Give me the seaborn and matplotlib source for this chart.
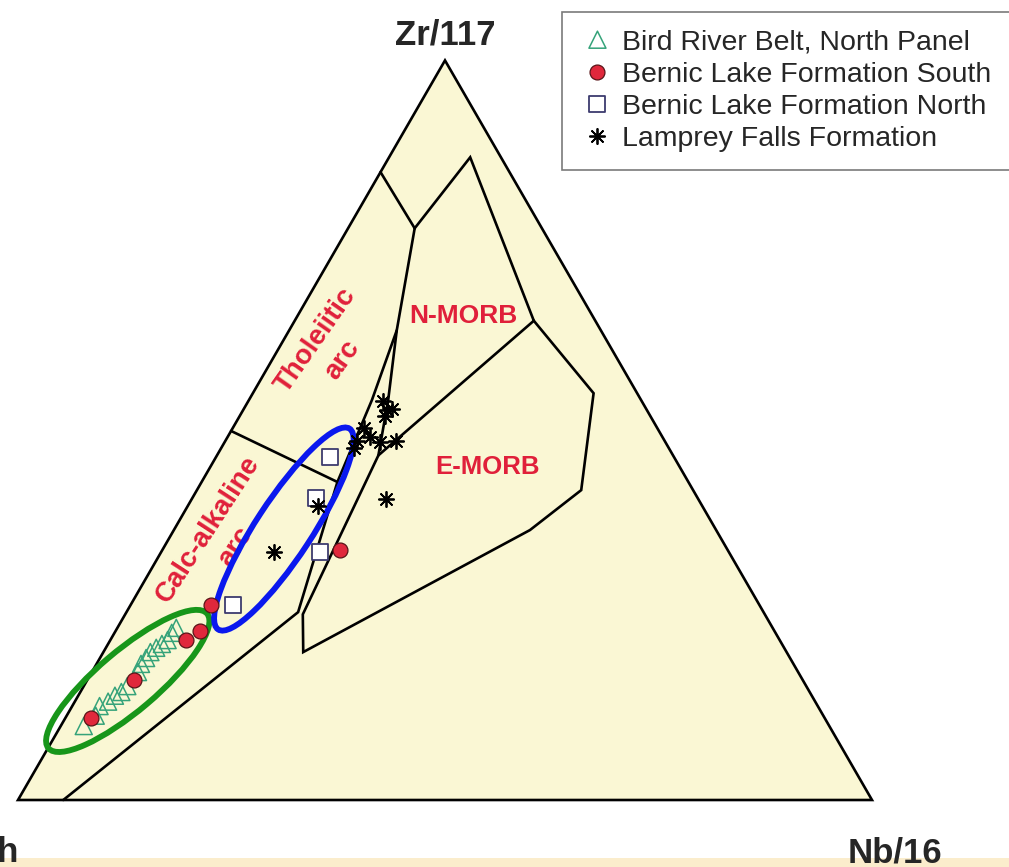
import numpy as np
import pandas as pd
import matplotlib
matplotlib.use("Agg")
import matplotlib.pyplot as plt
from matplotlib.patches import Polygon, Ellipse, Rectangle
import seaborn as sns

# ---- Sample compositions, percent of (Th, Zr/117, Nb/16) ----
bird_th = [87.3, 85.2, 84.1, 82.8, 81.6, 80.6, 79.5, 77.3, 76.4, 75.4, 74.5, 73.6, 72.6, 71.6, 70.7, 69.9]
bird_zr = [10.0, 11.4, 12.7, 13.3, 14.1, 14.6, 15.4, 17.3, 18.4, 19.2, 20.0, 20.6, 21.1, 21.6, 22.6, 23.3]
bird_nb = [2.7, 3.4, 3.2, 3.9, 4.3, 4.8, 5.1, 5.4, 5.2, 5.4, 5.5, 5.9, 6.3, 6.7, 6.7, 6.9]

south_th = [45.4, 64.2, 67.3, 69.5, 78.3, 86.0]
south_zr = [33.8, 26.4, 22.9, 21.6, 16.2, 11.1]
south_nb = [20.8, 9.4, 9.9, 8.9, 5.5, 3.0]

north_th = [40.3, 44.7, 47.9, 61.6]
north_zr = [46.4, 40.8, 33.5, 26.4]
north_nb = [13.3, 14.5, 18.6, 12.0]

lamprey_th = [30.3, 30.4, 29.8, 31.1, 34.3, 34.2, 33.4, 31.5, 36.0, 36.9, 36.6, 45.0, 53.3]
lamprey_zr = [54.0, 52.7, 52.9, 51.9, 50.3, 49.1, 48.4, 48.5, 48.5, 47.6, 40.7, 39.8, 33.5]
lamprey_nb = [15.8, 16.8, 17.4, 17.0, 15.4, 16.7, 18.2, 20.0, 15.4, 15.5, 22.7, 15.2, 13.2]

group_names = ["Bird River Belt, North Panel", "Bernic Lake Formation South",
               "Bernic Lake Formation North", "Lamprey Falls Formation"]

# ---- Discrimination field boundaries (Th, Zr/117, Nb/16) ----
bnd_tholeiite_top = [(15.1, 84.9, 0.0), (14.9, 77.3, 7.8)]
bnd_nmorb_cap = [(14.9, 77.3, 7.8), (3.6, 86.9, 9.5), (7.2, 64.8, 28.0)]
bnd_emorb = [(7.2, 64.8, 28.0), (5.1, 55.0, 39.9), (13.1, 41.9, 45.0), (21.8, 36.5, 41.7),
             (56.6, 20.0, 23.4), (54.1, 25.1, 20.8), (34.5, 46.6, 18.9), (29.6, 54.1, 16.3),
             (23.9, 63.5, 12.6), (14.9, 77.3, 7.8)]
bnd_morb_split = [(7.2, 64.8, 28.0), (34.5, 46.6, 18.9)]
bnd_arc = [(23.9, 63.5, 12.6), (31.5, 54.1, 14.4), (41.1, 43.0, 15.9), (54.5, 25.4, 20.1), (94.7, 0.0, 5.3)]
bnd_calc_thol = [(50.1, 49.9, 0.0), (41.1, 43.0, 15.9)]

H = np.sqrt(3) / 2


def to_xy(th, zr, nb):
    th, zr, nb = (np.asarray(v, dtype=float) for v in (th, zr, nb))
    tot = th + zr + nb
    return nb / tot + 0.5 * zr / tot, H * zr / tot


def poly_xy(pts):
    arr = np.array(pts, dtype=float)
    return to_xy(arr[:, 0], arr[:, 1], arr[:, 2])


sns.set_theme(style="white")
plt.rcParams["font.family"] = ["Liberation Sans", "DejaVu Sans"]

fig = plt.figure(figsize=(10.09, 8.67), dpi=100)
fig.patch.set_facecolor("white")
ax = fig.add_axes([0, 0, 1, 1])
ax.set_xlim(-0.02108, 1.16042)
ax.set_ylim(-0.07845, 0.93677)
ax.set_aspect("equal")
ax.axis("off")

# pale band along the bottom edge
fig.add_artist(Rectangle((0, 0), 1, 9 / 867, transform=fig.transFigure,
                         facecolor="#fbedcc", edgecolor="none", zorder=0))

# ternary frame
tri = Polygon([(0, 0), (1, 0), (0.5, H)], closed=True, facecolor="#faf7d4",
              edgecolor="black", linewidth=1.9, zorder=1)
ax.add_patch(tri)

for pts in [bnd_tholeiite_top, bnd_nmorb_cap, bnd_emorb, bnd_morb_split, bnd_arc, bnd_calc_thol]:
    x, y = poly_xy(pts)
    ax.plot(x, y, color="black", linewidth=1.9, solid_joinstyle="miter", zorder=2)

# field names
red = "#e0203a"
for txt, (xx, yy), rot, fs in [("N-MORB", (0.5211, 0.5667), 0, 19),
                               ("E-MORB", (0.5492, 0.3899), 0, 18.5),
                               ("Tholeiitic\narc", (0.3642, 0.5269), 55, 20),
                               ("Calc-alkaline\narc", (0.2389, 0.3068), 57, 20)]:
    ax.text(xx, yy, txt, color=red, fontsize=fs, fontweight="bold", rotation=rot,
            ha="center", va="center", rotation_mode="anchor", multialignment="center",
            linespacing=1.35, zorder=3)

# apex labels
ax.text(0.5, 0.885, "Zr/117", fontsize=25, fontweight="bold", ha="center", va="baseline")
ax.text(1.0264, -0.0726, "Nb/16", fontsize=25, fontweight="bold", ha="center", va="baseline")
ax.text(0.0012, -0.0726, "Th", fontsize=25, fontweight="bold", ha="right", va="baseline")

# grouping ellipses
gx, gy = to_xy(79.1, 16.1, 4.8)
ax.add_patch(Ellipse((gx, gy), 0.2436, 0.0703, angle=40.3, fill=False,
                     edgecolor="#17961a", linewidth=4.2, zorder=3))
bx, by = to_xy(50.5, 36.6, 12.8)
ax.add_patch(Ellipse((bx, by), 0.281, 0.0656, angle=56.8, fill=False,
                     edgecolor="#0a18ee", linewidth=4.2, zorder=3))

# sample points
frames = []
for name, th, zr, nb in zip(group_names,
                            [bird_th, south_th, north_th, lamprey_th],
                            [bird_zr, south_zr, north_zr, lamprey_zr],
                            [bird_nb, south_nb, north_nb, lamprey_nb]):
    x, y = to_xy(th, zr, nb)
    frames.append(pd.DataFrame({"x": x, "y": y, "group": name}))
df = pd.concat(frames, ignore_index=True)

styles = {
    group_names[0]: dict(marker="^", s=150, facecolor="none", edgecolor="#35a37a", linewidth=1.1),
    group_names[1]: dict(marker="o", s=115, facecolor="#e0283c", edgecolor="#5a1418", linewidth=0.9),
    group_names[2]: dict(marker="s", s=140, facecolor="white", edgecolor="#3d3b6e", linewidth=1.3),
    group_names[3]: dict(marker=(8, 2, 0), s=120, color="black", linewidth=1.3),
}
for z, name in enumerate(group_names):
    sub = df[df["group"] == name]
    sns.scatterplot(data=sub, x="x", y="y", ax=ax, label=name, zorder=4 + z, legend=False,
                    **styles[name])

handles, labels = ax.get_legend_handles_labels()
leg = ax.legend(handles, labels, loc="upper left",
                bbox_to_anchor=(562 / 1009, 1 - 12 / 867 - 0.01, 480 / 1009, 0.01),
                bbox_transform=fig.transFigure, mode="expand", fontsize=20.5,
                frameon=True, fancybox=False, framealpha=1, edgecolor="#7a7a7a",
                borderpad=0.62, labelspacing=0.22, handlelength=1.25, handletextpad=0.24,
                borderaxespad=0, scatterpoints=1, scatteryoffsets=[0.5])
leg.get_frame().set_linewidth(1.2)
leg.set_zorder(10)

fig.savefig("out.png", dpi=100, facecolor="white")
